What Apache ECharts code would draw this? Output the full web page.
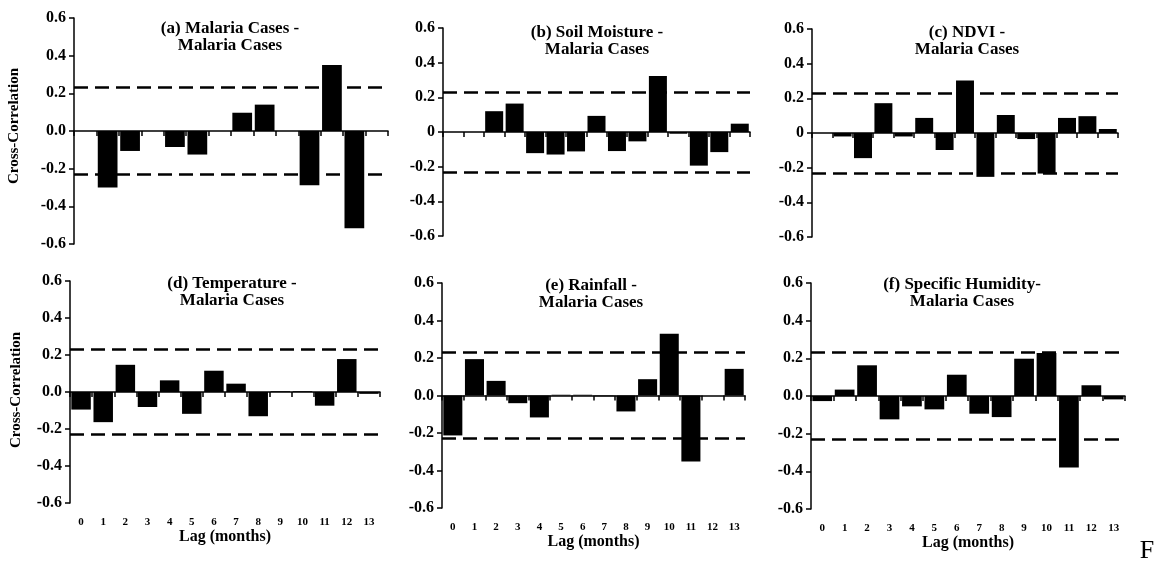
<!DOCTYPE html>
<html>
<head>
<meta charset="utf-8">
<script src="https://cdn.jsdelivr.net/npm/echarts@6/dist/echarts.min.js"></script>
<style>
  html, body { margin: 0; padding: 0; background: #fff; }
  #chart { width: 1155px; height: 572px; }
</style>
</head>
<body>
<div id="chart"></div>
<script>
  // x categories (lag in months)
  var lags14 = ['0', '1', '2', '3', '4', '5', '6', '7', '8', '9', '10', '11', '12', '13'];
  var lags15 = ['0', '1', '2', '3', '4', '5', '6', '7', '8', '9', '10', '11', '12', '13', '14'];

  // y tick labels
  var ticksDot = ['-0.6', '-0.4', '-0.2', '0.0', '0.2', '0.4', '0.6'];
  var ticksZero = ['-0.6', '-0.4', '-0.2', '0', '0.2', '0.4', '0.6'];

  // significance bounds (dashed lines)
  var confLimits = [0.225, -0.228];

  // cross-correlation values
  var malariaCases = [0, -0.30, -0.106, 0, -0.085, -0.125, 0, 0.097, 0.14, 0, -0.288, 0.35, -0.517, 0];
  var soilMoisture = [0, 0, 0.12, 0.164, -0.122, -0.13, -0.112, 0.093, -0.11, -0.054, 0.323, -0.01, -0.194, -0.116, 0.048];
  var ndvi = [null, -0.02, -0.145, 0.172, -0.02, 0.087, -0.098, 0.303, -0.253, 0.104, -0.035, -0.234, 0.087, 0.097, 0.023];
  var temperature = [-0.095, -0.163, 0.147, -0.081, 0.063, -0.118, 0.115, 0.045, -0.131, 0.004, 0.004, -0.074, 0.178, -0.01];
  var rainfall = [-0.213, 0.194, 0.078, -0.041, -0.117, 0.004, 0.004, -0.004, -0.085, 0.087, 0.329, -0.352, 0, 0.142];
  var humidity = [-0.027, 0.034, 0.163, -0.124, -0.055, -0.071, 0.113, -0.094, -0.112, 0.198, 0.228, -0.38, 0.057, -0.018];

  var titles = [
    '(a) Malaria Cases -\nMalaria Cases',
    '(b) Soil Moisture -\nMalaria Cases',
    '(c) NDVI -\nMalaria Cases',
    '(d) Temperature -\nMalaria Cases',
    '(e) Rainfall -\nMalaria Cases',
    '(f) Specific Humidity-\nMalaria Cases'
  ];

  var serif = '"Liberation Serif", "Times New Roman", serif';

  var panels = [
    { data: malariaCases, lags: lags14, ticks: ticksDot, box: { left: 74, top: 18, width: 314, height: 226 }, tx: 230, ty: 20, lagAxis: false },
    { data: soilMoisture, lags: lags15, ticks: ticksZero, box: { left: 443, top: 28, width: 307, height: 208 }, tx: 597, ty: 24, lagAxis: false },
    { data: ndvi, lags: lags15, ticks: ticksZero, box: { left: 812, top: 29, width: 306, height: 208 }, tx: 967, ty: 24, lagAxis: false },
    { data: temperature, lags: lags14, ticks: ticksDot, box: { left: 70, top: 281, width: 310, height: 222 }, tx: 232, ty: 275, lagAxis: true },
    { data: rainfall, lags: lags14, ticks: ticksDot, box: { left: 442, top: 283, width: 303, height: 225 }, tx: 591, ty: 277, lagAxis: true },
    { data: humidity, lags: lags14, ticks: ticksDot, box: { left: 811, top: 283, width: 314, height: 226 }, tx: 962, ty: 276, lagAxis: true }
  ];

  var grid = [], xAxis = [], yAxis = [], series = [], graphic = [];

  panels.forEach(function (p, i) {
    grid.push(p.box);

    var ticks = p.ticks;
    yAxis.push({
      type: 'value', gridIndex: i, min: -0.6, max: 0.6, interval: 0.2,
      axisLine: { show: true, onZero: false, lineStyle: { color: '#000', width: 1.5 } },
      axisTick: { show: true, length: 5, lineStyle: { color: '#000', width: 1.5 } },
      splitLine: { show: false },
      axisLabel: {
        color: '#000', fontFamily: serif, fontWeight: 'bold', fontSize: 16, margin: 8,
        formatter: function (v) { return ticks[Math.round((v + 0.6) / 0.2)]; }
      }
    });

    // axis through zero: line + ticks only
    var zeroIdx = xAxis.length;
    xAxis.push({
      type: 'category', gridIndex: i, data: p.lags, position: 'bottom',
      axisLine: { onZero: true, lineStyle: { color: '#000', width: 1.5 } },
      axisTick: { show: true, length: 5, lineStyle: { color: '#000', width: 1.5 } },
      axisLabel: { show: false }
    });

    // labels under the plot for the bottom row
    if (p.lagAxis) {
      xAxis.push({
        type: 'category', gridIndex: i, data: p.lags, position: 'bottom',
        axisLine: { show: false, onZero: false }, axisTick: { show: false },
        axisLabel: { color: '#000', fontFamily: serif, fontWeight: 'bold', fontSize: 11, margin: 14 },
        name: 'Lag (months)', nameLocation: 'middle', nameGap: 25,
        nameTextStyle: { color: '#000', fontFamily: serif, fontWeight: 'bold', fontSize: 16 }
      });
    }

    series.push({
      type: 'bar', xAxisIndex: zeroIdx, yAxisIndex: i, data: p.data,
      barCategoryGap: '12%', itemStyle: { color: '#000' },
      markLine: {
        symbol: 'none', silent: true, label: { show: false },
        lineStyle: { color: '#000', type: [14, 7], width: 2.5 },
        data: confLimits.map(function (c) { return { yAxis: c }; })
      }
    });

    graphic.push({
      type: 'text', x: p.tx, y: p.ty,
      style: { text: titles[i], fill: '#000', font: 'bold 17px ' + serif, align: 'center', verticalAlign: 'top', lineHeight: 17 }
    });
  });

  graphic.push({
    type: 'text', x: 14, y: 126, rotation: Math.PI / 2,
    style: { text: 'Cross-Correlation', fill: '#000', font: 'bold 15px ' + serif, align: 'center', verticalAlign: 'middle' }
  });
  graphic.push({
    type: 'text', x: 16, y: 390, rotation: Math.PI / 2,
    style: { text: 'Cross-Correlation', fill: '#000', font: 'bold 15px ' + serif, align: 'center', verticalAlign: 'middle' }
  });
  graphic.push({
    type: 'text', x: 1147, y: 551,
    style: { text: 'F', fill: '#000', font: '26px ' + serif, align: 'center', verticalAlign: 'middle' }
  });

  var chart = echarts.init(document.getElementById('chart'));
  chart.setOption({
    backgroundColor: '#fff',
    animation: false,
    grid: grid,
    xAxis: xAxis,
    yAxis: yAxis,
    series: series,
    graphic: graphic
  });
</script>
</body>
</html>
